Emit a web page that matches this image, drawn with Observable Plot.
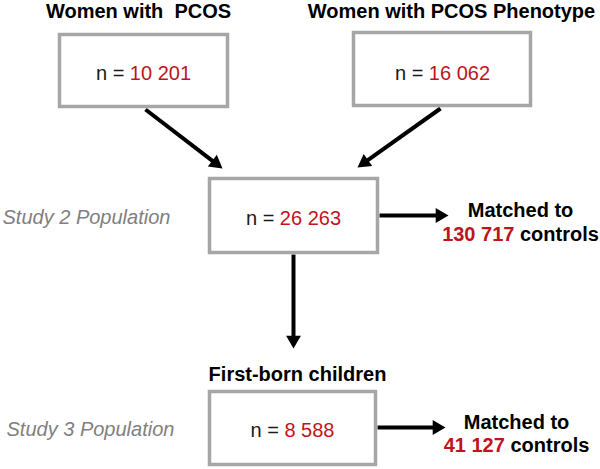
<!DOCTYPE html>
<html><head><meta charset="utf-8">
<script src="https://cdn.jsdelivr.net/npm/d3@7"></script>
<script src="https://cdn.jsdelivr.net/npm/@observablehq/plot@0.6"></script>
<style>body{margin:0;background:#fff}</style>
</head><body><div id="chart"></div>
<script>
// ---- content ----
const groupTitles = ["Women with  PCOS", "Women with PCOS Phenotype", "First-born children"];
const countPrefix = "n = ";
const counts = ["10 201", "16 062", "26 263", "8 588"];
const matchedLabel = "Matched to";
const matchedControls = ["130 717", "41 127"];
const controlsWord = "controls";
const populationLabels = ["Study 2 Population", "Study 3 Population"];

// ---- layout (pixel space of the 600x469 canvas) ----
const boxLayout = [
  {x1: 59.5, x2: 227.5, y1: 34.5, y2: 106.5, cx: 143, ty: 79},
  {x1: 353.5, x2: 530.5, y1: 32.5, y2: 105.5, cx: 442, ty: 79},
  {x1: 209.5, x2: 377.5, y1: 178.5, y2: 252.5, cx: 293, ty: 224},
  {x1: 209.5, x2: 375.5, y1: 391.5, y2: 464.5, cx: 292, ty: 436}
];
const titleLayout = [{x: 138, y: 17}, {x: 451, y: 17}, {x: 297, y: 380}];
const matchedLayout = [{x: 520, y1: 216, y2: 240}, {x: 516, y1: 428, y2: 451}];
const populationLayout = [{x: 2, y: 223}, {x: 6, y: 435}];
const arrowLayout = [
  {x1: 145, y1: 109, x2: 222, y2: 168},
  {x1: 440, y1: 108, x2: 357, y2: 167},
  {x1: 293, y1: 254, x2: 293, y2: 348},
  {x1: 379, y1: 215, x2: 448, y2: 215},
  {x1: 377, y1: 427, x2: 445, y2: 427}
];

const FONT = "'Liberation Sans', Arial, Helvetica, sans-serif";
const RED = "#c0141c";
const regSize = 20, boldSize = 20, italSize = 20;

const ctx = document.createElement("canvas").getContext("2d");
function tw(text, size, weight = "normal") {
  ctx.font = `${weight} ${size}px ${FONT}`;
  return ctx.measureText(text).width;
}

const boxes = boxLayout.map((b, i) => ({...b, count: counts[i]}));
const countRows = boxes.map(b => {
  const total = tw(countPrefix + b.count, regSize);
  const start = b.cx - total / 2;
  return {start, numX: start + tw(countPrefix, regSize), y: b.ty, prefix: countPrefix.trim(), count: b.count};
});
const titles = groupTitles.map((t, i) => ({text: t, ...titleLayout[i]}));
const matchedRows = matchedControls.map((n, i) => {
  const m = matchedLayout[i];
  const total = tw(n + " " + controlsWord, boldSize, "bold");
  const start = m.x - total / 2;
  return {x: m.x, y1: m.y1, y2: m.y2, start, wordX: start + tw(n + " ", boldSize, "bold"), num: n};
});
const pops = populationLabels.map((t, i) => ({text: t, ...populationLayout[i]}));

// arrow heads: filled triangles
const headR = 5.5;
const half = headR * Math.sqrt(Math.PI / (3 * Math.sqrt(3)));
const arrows = arrowLayout.map(a => {
  const dx = a.x2 - a.x1, dy = a.y2 - a.y1, L = Math.hypot(dx, dy);
  const ux = dx / L, uy = dy / L;
  return {
    ...a,
    sx2: a.x2 - ux * 3 * half + ux * 1, sy2: a.y2 - uy * 3 * half + uy * 1,
    hx: a.x2 - ux * 2 * half, hy: a.y2 - uy * 2 * half,
    rot: Math.atan2(ux, -uy) * 180 / Math.PI
  };
});

const chart = Plot.plot({
  width: 600, height: 469, margin: 0,
  x: {domain: [0, 600], range: [0, 600], axis: null},
  y: {domain: [0, 469], range: [0, 469], axis: null},
  style: {background: "white", fontFamily: FONT},
  marks: [
    Plot.link(arrows, {x1: "x1", y1: "y1", x2: "sx2", y2: "sy2", stroke: "black", strokeWidth: 4, strokeLinecap: "butt"}),
    Plot.dot(arrows, {x: "hx", y: "hy", r: headR, symbol: "triangle", fill: "black", stroke: "none", rotate: "rot"}),
    Plot.rect(boxes, {x1: "x1", x2: "x2", y1: "y1", y2: "y2", fill: "white", stroke: "#a6a6a6", strokeWidth: 3.5}),
    Plot.text(countRows, {x: "start", y: "y", text: "prefix", textAnchor: "start", lineAnchor: "bottom", fontSize: regSize, fill: "#1a1a1a"}),
    Plot.text(countRows, {x: "numX", y: "y", text: "count", textAnchor: "start", lineAnchor: "bottom", fontSize: regSize, fill: RED}),
    Plot.text(titles, {x: "x", y: "y", text: "text", textAnchor: "middle", lineAnchor: "bottom", fontSize: boldSize, fontWeight: "bold", fill: "black"}),
    Plot.text(matchedRows, {x: "x", y: "y1", text: () => matchedLabel, textAnchor: "middle", lineAnchor: "bottom", fontSize: boldSize, fontWeight: "bold", fill: "black"}),
    Plot.text(matchedRows, {x: "start", y: "y2", text: "num", textAnchor: "start", lineAnchor: "bottom", fontSize: boldSize, fontWeight: "bold", fill: RED}),
    Plot.text(matchedRows, {x: "wordX", y: "y2", text: () => controlsWord, textAnchor: "start", lineAnchor: "bottom", fontSize: boldSize, fontWeight: "bold", fill: "black"}),
    Plot.text(pops, {x: "x", y: "y", text: "text", textAnchor: "start", lineAnchor: "bottom", fontSize: italSize, fontStyle: "italic", fill: "#808080"})
  ]
});
document.getElementById("chart").appendChild(chart);
</script>
</body></html>
